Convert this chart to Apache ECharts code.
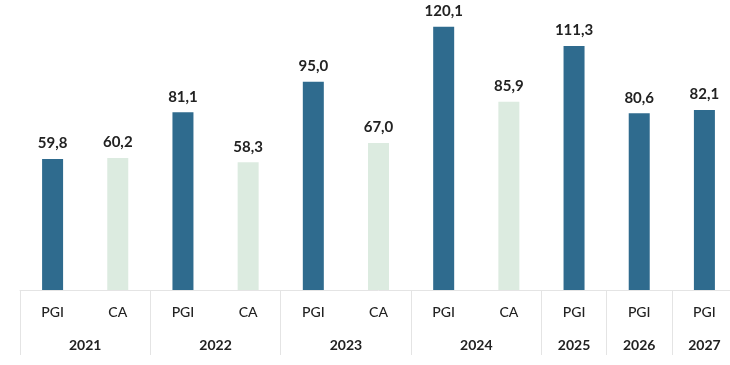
<!DOCTYPE html>
<html><head><meta charset="utf-8">
<script src="https://cdn.jsdelivr.net/npm/echarts@6/dist/echarts.min.js"></script>
<style>html,body{margin:0;padding:0;background:#fff;overflow:hidden}#c{width:740px;height:365px}</style>
</head><body><div id="c"></div>
<script>
const categories = ['PGI','CA','PGI','CA','PGI','CA','PGI','CA','PGI','PGI','PGI'];
const pgiValues = [59.8, null, 81.1, null, 95.0, null, 120.1, null, 111.3, 80.6, 82.1];
const caValues  = [null, 60.2, null, 58.3, null, 67.0, null, 85.9, null, null, null];
const yearLabels = ['2021','2022','2023','2024','2025','2026','2027'];
const yearCenters = [1, 3, 5, 7, 8.5, 9.5, 10.5];
const groupStarts = [0, 2, 4, 6, 8, 9, 10];

const chart = echarts.init(document.getElementById('c'));
const fmt = p => p.value == null ? '' : p.value.toFixed(1).replace('.', ',');
const font = 'Lato, "Open Sans", sans-serif';
chart.setOption({
  animation: false,
  grid: {left: 20, right: 3, top: 5, bottom: 75},
  xAxis: [{
    type: 'category', data: categories,
    axisLine: {show: true, lineStyle: {color: '#e4e4e4'}},
    axisTick: {show: true, length: 65, lineStyle: {color: '#e4e4e4'},
      interval: (i) => groupStarts.indexOf(i) >= 0},
    axisLabel: {margin: 15, fontSize: 14, fontWeight: 500, color: '#222', fontFamily: font, interval: 0}
  }, {
    type: 'value', min: 0, max: 11, interval: 0.5, position: 'bottom',
    axisLine: {show: false}, axisTick: {show: false}, splitLine: {show: false},
    axisLabel: {margin: 48, fontSize: 14, fontWeight: 'bold', color: '#222', fontFamily: font,
      showMinLabel: true, showMaxLabel: true,
      formatter: v => { const k = yearCenters.indexOf(v); return k >= 0 ? yearLabels[k] : ''; }}
  }],
  yAxis: {type: 'value', min: 0, max: 130, show: false, splitLine: {show: false}},
  series: [{
    type: 'bar', data: pgiValues, barWidth: 21, barGap: '-100%', xAxisIndex: 0,
    itemStyle: {color: '#2f6b8e'},
    label: {show: true, position: 'top', distance: 8, formatter: fmt,
      fontSize: 15, fontWeight: 'bold', color: '#222', fontFamily: font}
  }, {
    type: 'bar', data: caValues, barWidth: 21, xAxisIndex: 0,
    itemStyle: {color: '#dcebe0'},
    label: {show: true, position: 'top', distance: 8, formatter: fmt,
      fontSize: 15, fontWeight: 'bold', color: '#222', fontFamily: font}
  }]
});
</script></body></html>
